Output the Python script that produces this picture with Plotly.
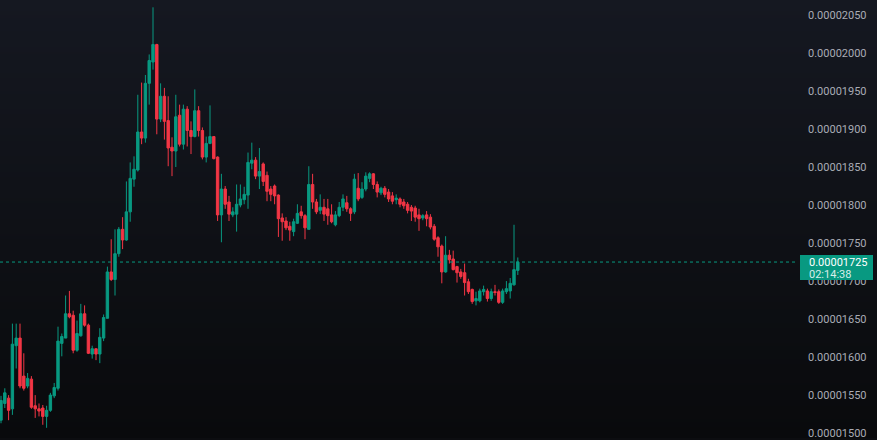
import base64
import struct
import zlib

import plotly.graph_objects as go

# Prices in units of 1e-8
open_u = [1517, 1539, 1546, 1532, 1615, 1625, 1575, 1562, 1571, 1536,
          1532, 1533, 1522, 1530, 1549, 1559, 1618, 1625, 1657, 1655,
          1609, 1628, 1657, 1642, 1604, 1611, 1604, 1625, 1651, 1712,
          1702, 1736, 1768, 1754, 1791, 1834, 1846, 1896, 1888, 1960,
          1988, 2011, 1913, 1943, 1911, 1876, 1871, 1918, 1880, 1926,
          1898, 1890, 1924, 1898, 1863, 1881, 1890, 1863, 1787, 1821,
          1804, 1787, 1788, 1800, 1807, 1813, 1855, 1859, 1838, 1854,
          1839, 1821, 1825, 1813, 1783, 1779, 1772, 1765, 1776, 1791,
          1786, 1768, 1827, 1804, 1793, 1797, 1795, 1787, 1774, 1786,
          1797, 1803, 1795, 1791, 1822, 1810, 1821, 1835, 1841, 1827,
          1816, 1822, 1817, 1812, 1807, 1808, 1804, 1801, 1797, 1796,
          1787, 1783, 1787, 1784, 1772, 1757, 1746, 1712, 1734, 1729,
          1719, 1712, 1711, 1699, 1689, 1674, 1674, 1686, 1687, 1677,
          1686, 1686, 1672, 1686, 1687, 1695, 1714]
high_u = [1549, 1559, 1550, 1644, 1644, 1644, 1605, 1579, 1575, 1550,
          1539, 1537, 1536, 1553, 1566, 1640, 1631, 1681, 1687, 1661,
          1648, 1670, 1668, 1644, 1615, 1611, 1638, 1656, 1719, 1755,
          1768, 1771, 1784, 1831, 1856, 1864, 1945, 1961, 1971, 1998,
          2060, 2012, 1960, 1954, 1943, 1889, 1945, 1932, 1932, 1930,
          1910, 1952, 1930, 1902, 1890, 1931, 1890, 1864, 1841, 1825,
          1812, 1797, 1827, 1827, 1824, 1869, 1882, 1863, 1875, 1856,
          1844, 1825, 1827, 1814, 1789, 1784, 1778, 1782, 1801, 1799,
          1788, 1851, 1841, 1808, 1814, 1808, 1808, 1801, 1792, 1804,
          1814, 1812, 1797, 1841, 1842, 1830, 1843, 1843, 1842, 1831,
          1824, 1825, 1821, 1817, 1814, 1810, 1808, 1804, 1800, 1799,
          1795, 1788, 1792, 1788, 1775, 1759, 1748, 1759, 1741, 1740,
          1720, 1716, 1723, 1703, 1690, 1686, 1690, 1694, 1690, 1690,
          1695, 1689, 1690, 1700, 1704, 1774, 1731]
low_u = [1513, 1533, 1517, 1524, 1585, 1559, 1556, 1559, 1532, 1520,
         1522, 1511, 1507, 1528, 1546, 1556, 1601, 1625, 1651, 1605,
         1607, 1627, 1640, 1604, 1598, 1596, 1592, 1621, 1651, 1700,
         1681, 1732, 1742, 1753, 1778, 1824, 1844, 1880, 1882, 1932,
         1978, 1893, 1909, 1886, 1851, 1838, 1850, 1877, 1873, 1877,
         1867, 1889, 1890, 1860, 1856, 1880, 1860, 1779, 1751, 1795,
         1779, 1784, 1765, 1797, 1801, 1795, 1847, 1834, 1821, 1825,
         1805, 1805, 1801, 1758, 1753, 1767, 1753, 1759, 1775, 1782,
         1755, 1768, 1795, 1788, 1788, 1779, 1774, 1776, 1772, 1784,
         1792, 1791, 1779, 1788, 1805, 1808, 1818, 1830, 1821, 1810,
         1813, 1810, 1804, 1801, 1801, 1797, 1795, 1789, 1779, 1778,
         1766, 1780, 1772, 1768, 1753, 1732, 1697, 1711, 1723, 1714,
         1698, 1703, 1681, 1683, 1670, 1668, 1672, 1681, 1673, 1674,
         1681, 1670, 1670, 1683, 1677, 1694, 1708]
close_u = [1543, 1553, 1530, 1617, 1625, 1562, 1559, 1572, 1534, 1532,
           1529, 1522, 1530, 1550, 1560, 1621, 1627, 1657, 1653, 1609,
           1631, 1657, 1642, 1605, 1611, 1604, 1626, 1652, 1712, 1702,
           1736, 1768, 1754, 1791, 1835, 1847, 1896, 1888, 1960, 1990,
           2011, 1913, 1943, 1910, 1875, 1871, 1916, 1880, 1926, 1898,
           1890, 1924, 1898, 1863, 1881, 1890, 1861, 1787, 1821, 1801,
           1788, 1791, 1801, 1808, 1814, 1856, 1859, 1838, 1844, 1831,
           1818, 1814, 1812, 1782, 1778, 1770, 1767, 1778, 1789, 1786,
           1770, 1827, 1804, 1791, 1797, 1788, 1786, 1778, 1787, 1797,
           1808, 1795, 1789, 1834, 1808, 1821, 1838, 1841, 1827, 1817,
           1822, 1814, 1808, 1805, 1809, 1801, 1799, 1793, 1792, 1784,
           1782, 1786, 1782, 1771, 1755, 1745, 1712, 1734, 1728, 1715,
           1711, 1706, 1698, 1686, 1673, 1677, 1687, 1689, 1677, 1686,
           1685, 1672, 1687, 1690, 1697, 1715, 1725]

tick_u = [1500, 1550, 1600, 1650, 1700, 1750, 1800, 1850, 1900, 1950, 2000, 2050]
countdown_text = "02:14:38"

UNIT = 1e-8
opens = [v * UNIT for v in open_u]
highs = [v * UNIT for v in high_u]
lows = [v * UNIT for v in low_u]
closes = [v * UNIT for v in close_u]
ticks = [v * UNIT for v in tick_u]
idx = list(range(len(opens)))

GREEN = "#089981"
RED = "#f23645"

W, H = 877, 440
MR = 80
plot_w = W - MR


# vertical gradient background image (1 x H png)
def make_png(rows):
    raw = b"".join(b"\x00" + bytes(r) for r in rows)

    def chunk(tag, data):
        c = struct.pack(">I", len(data)) + tag + data
        return c + struct.pack(">I", zlib.crc32(tag + data) & 0xFFFFFFFF)

    png = b"\x89PNG\r\n\x1a\n"
    png += chunk(b"IHDR", struct.pack(">IIBBBBB", 1, len(rows), 8, 2, 0, 0, 0))
    png += chunk(b"IDAT", zlib.compress(raw))
    png += chunk(b"IEND", b"")
    return "data:image/png;base64," + base64.b64encode(png).decode()


top_c = (21, 24, 33)
bot_c = (9, 10, 12)
rows = []
for i in range(H):
    t = i / (H - 1)
    rows.append(tuple(int(round(top_c[k] + (bot_c[k] - top_c[k]) * t)) for k in range(3)))
bg_src = make_png(rows)

fig = go.Figure()
fig.add_trace(go.Candlestick(
    x=idx, open=opens, high=highs, low=lows, close=closes,
    increasing=dict(line=dict(color=GREEN, width=1), fillcolor=GREEN),
    decreasing=dict(line=dict(color=RED, width=1), fillcolor=RED),
    whiskerwidth=0,
    showlegend=False,
))

spacing_px = 3.8
x0 = -1 / spacing_px
x1 = x0 + plot_w / spacing_px

ymax = 2069.6 * UNIT
ymin = 1493.6 * UNIT

last = closes[-1]

fig.update_layout(
    width=W, height=H,
    margin=dict(l=0, r=MR, t=0, b=0),
    paper_bgcolor="rgb(12,13,16)",
    plot_bgcolor="rgba(0,0,0,0)",
    boxgap=0.1,
    xaxis=dict(visible=False, range=[x0, x1], rangeslider=dict(visible=False),
               showgrid=False, zeroline=False),
    yaxis=dict(side="right", range=[ymin, ymax], tickvals=ticks, tickformat=".8f",
               showgrid=False, zeroline=False, showline=False, ticks="",
               ticklabelstandoff=10, ticklabeloverflow="allow",
               tickfont=dict(family="Roboto", size=11, color="#a9acb5")),
    images=[dict(source=bg_src, xref="paper", yref="paper", x=0, y=1,
                 sizex=W / plot_w, sizey=1, sizing="stretch",
                 xanchor="left", yanchor="top", layer="below")],
    shapes=[dict(type="line", xref="paper", yref="y", x0=0, x1=1, y0=last, y1=last,
                 line=dict(color=GREEN, width=1, dash="dot"))],
    annotations=[
        dict(text=" ", xref="paper", yref="y", x=1, y=last, xanchor="left", yanchor="top",
             xshift=3, yshift=7, width=71, height=23, bgcolor=GREEN, bordercolor=GREEN,
             borderwidth=1, borderpad=0, showarrow=False),
        dict(text=f"{last:.8f}", xref="paper", yref="y", x=1, y=last, xanchor="left",
             yanchor="middle", xshift=10, showarrow=False,
             font=dict(family="Roboto", size=11, color="#ffffff")),
        dict(text=countdown_text, xref="paper", yref="y", x=1, y=last, xanchor="left",
             yanchor="middle", xshift=10, yshift=-12, showarrow=False,
             font=dict(family="Roboto", size=11, color="rgba(255,255,255,0.85)")),
    ],
)

fig.write_html(
    "out.html",
    config={"displayModeBar": False},
    post_script="document.body.style.margin='0';document.body.style.padding='0';"
                "document.body.style.overflow='hidden';"
                "document.body.style.background='rgb(12,13,16)';",
)
